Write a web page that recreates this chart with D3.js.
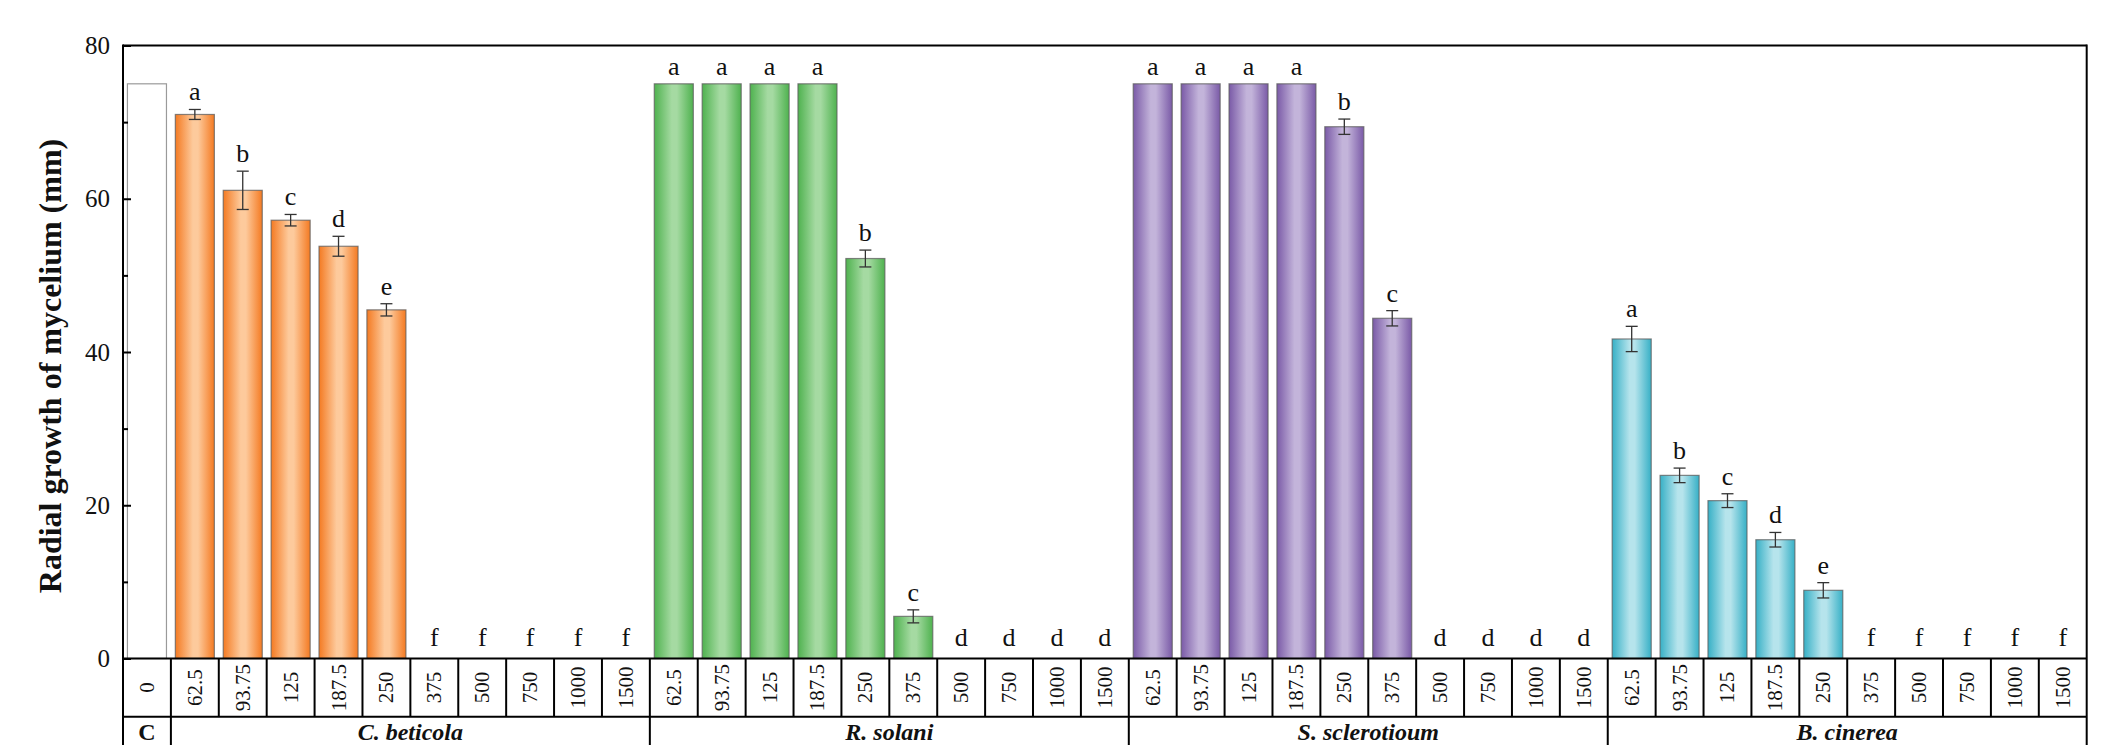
<!DOCTYPE html>
<html>
<head>
<meta charset="utf-8">
<script src="https://cdn.jsdelivr.net/npm/d3@7"></script>
<style>
  html, body { margin: 0; padding: 0; background: #fff; }
  svg { display: block; }
  text { font-family: "Liberation Serif", "Times New Roman", serif; fill: #111; }
</style>
</head>
<body>
<svg id="chart" width="2113" height="745"></svg>
<script>
// ---------------- DATA ----------------
const controlLabel = "C";
const controlConc = "0";
const controlValue = 75;

const concentrations = ["62.5", "93.75", "125", "187.5", "250", "375", "500", "750", "1000", "1500"];
const groups = ["C. beticola", "R. solani", "S. sclerotioum", "B. cinerea"];

const cBeticolaValues  = [71.0, 61.1, 57.2, 53.8, 45.5, 0, 0, 0, 0, 0];
const cBeticolaErrors  = [0.65, 2.5, 0.75, 1.3, 0.8, 0, 0, 0, 0, 0];
const cBeticolaLetters = ["a", "b", "c", "d", "e", "f", "f", "f", "f", "f"];

const rSolaniValues  = [75, 75, 75, 75, 52.2, 5.5, 0, 0, 0, 0];
const rSolaniErrors  = [0, 0, 0, 0, 1.1, 0.85, 0, 0, 0, 0];
const rSolaniLetters = ["a", "a", "a", "a", "b", "c", "d", "d", "d", "d"];

const sSclerotioumValues  = [75, 75, 75, 75, 69.4, 44.4, 0, 0, 0, 0];
const sSclerotioumErrors  = [0, 0, 0, 0, 1.0, 1.0, 0, 0, 0, 0];
const sSclerotioumLetters = ["a", "a", "a", "a", "b", "c", "d", "d", "d", "d"];

const bCinereaValues  = [41.7, 23.9, 20.6, 15.5, 8.9, 0, 0, 0, 0, 0];
const bCinereaErrors  = [1.65, 0.95, 0.9, 0.95, 1.0, 0, 0, 0, 0, 0];
const bCinereaLetters = ["a", "b", "c", "d", "e", "f", "f", "f", "f", "f"];

const yMajorTicks = [0, 20, 40, 60, 80];
const yMinorTicks = [10, 30, 50, 70];
const yTitle = "Radial growth of mycelium (mm)";

// ---------------- STYLE ----------------
const groupColors = [
  { dark: "#f47a22", light: "#fdca9c" },
  { dark: "#4fb24f", light: "#a5daa2" },
  { dark: "#7a5aa7", light: "#c3b4da" },
  { dark: "#37b0c6", light: "#b6e4ec" }
];

// ---------------- BUILD ROWS ----------------
const groupValues  = [cBeticolaValues, rSolaniValues, sSclerotioumValues, bCinereaValues];
const groupErrors  = [cBeticolaErrors, rSolaniErrors, sSclerotioumErrors, bCinereaErrors];
const groupLetters = [cBeticolaLetters, rSolaniLetters, sSclerotioumLetters, bCinereaLetters];

const rows = [{ key: "c0", conc: controlConc, value: controlValue, err: 0, letter: "", group: -1 }];
groups.forEach((g, gi) => {
  concentrations.forEach((c, ci) => {
    rows.push({ key: "g" + gi + "_" + ci, conc: c, value: groupValues[gi][ci],
      err: groupErrors[gi][ci], letter: groupLetters[gi][ci], group: gi });
  });
});

// ---------------- LAYOUT ----------------
const plotLeft = 123, plotRight = 2086.7, plotTop = 45.5, zeroY = 658.5;
const row1Bottom = 716.7, row2Bottom = 790;

const svg = d3.select("#chart");
svg.append("rect").attr("width", 2113).attr("height", 745).attr("fill", "#fff");

const x = d3.scaleBand().domain(rows.map(r => r.key)).range([plotLeft, plotRight]).paddingInner(0).paddingOuter(0);
const y = d3.scaleLinear().domain([0, 80]).range([zeroY, plotTop]);
const bw = x.bandwidth();
const barW = bw * 0.815;

// gradients
const defs = svg.append("defs");
groupColors.forEach((c, i) => {
  const g = defs.append("linearGradient").attr("id", "grad" + i)
    .attr("x1", "0%").attr("x2", "100%").attr("y1", "0%").attr("y2", "0%");
  g.append("stop").attr("offset", "0%").attr("stop-color", c.dark);
  g.append("stop").attr("offset", "45%").attr("stop-color", c.light);
  g.append("stop").attr("offset", "58%").attr("stop-color", c.light);
  g.append("stop").attr("offset", "100%").attr("stop-color", c.dark);
});

// bars
const bars = rows.filter(r => r.value > 0);
svg.append("g").selectAll("rect").data(bars).join("rect")
  .attr("x", d => x(d.key) + (bw - barW) / 2)
  .attr("y", d => y(d.value))
  .attr("width", barW)
  .attr("height", d => y(0) - y(d.value))
  .attr("fill", d => d.group < 0 ? "#fff" : "url(#grad" + d.group + ")")
  .attr("stroke", d => d.group < 0 ? "#9a9a9a" : "#5e5e5e")
  .attr("stroke-opacity", d => d.group < 0 ? 1 : 0.75)
  .attr("stroke-width", 1.2);

// error bars
const errs = rows.filter(r => r.err > 0);
const eg = svg.append("g").attr("stroke", "#333").attr("stroke-width", 1.3).attr("fill", "none");
errs.forEach(d => {
  const cx = x(d.key) + bw / 2;
  const y1 = y(d.value + d.err), y2 = y(d.value - d.err);
  eg.append("line").attr("x1", cx).attr("x2", cx).attr("y1", y1).attr("y2", y2);
  eg.append("line").attr("x1", cx - 6).attr("x2", cx + 6).attr("y1", y1).attr("y2", y1);
  eg.append("line").attr("x1", cx - 6).attr("x2", cx + 6).attr("y1", y2).attr("y2", y2);
});

// significance letters
svg.append("g").selectAll("text").data(rows.filter(r => r.letter)).join("text")
  .attr("x", d => x(d.key) + bw / 2)
  .attr("y", d => d.value > 0 ? y(d.value + d.err) - 9 : y(0) - 13)
  .attr("text-anchor", "middle")
  .attr("font-size", 26)
  .text(d => d.letter);

// y axis (inward ticks)
const yAxis = d3.axisLeft(y).tickValues(yMajorTicks).tickSizeInner(-8).tickSizeOuter(0).tickPadding(13)
  .tickFormat(d3.format("d"));
const ya = svg.append("g").attr("transform", `translate(${plotLeft},0)`).call(yAxis);
ya.select(".domain").remove();
ya.selectAll(".tick line").attr("stroke", "#000").attr("stroke-width", 2);
ya.selectAll(".tick text").attr("font-size", 25).attr("font-family", "Liberation Serif, Times New Roman, serif").attr("fill", "#111");

const yMinor = d3.axisLeft(y).tickValues(yMinorTicks).tickSizeInner(-5).tickSizeOuter(0).tickFormat("");
const ym = svg.append("g").attr("transform", `translate(${plotLeft},0)`).call(yMinor);
ym.select(".domain").remove();
ym.selectAll(".tick line").attr("stroke", "#000").attr("stroke-width", 2);

// y title
svg.append("text")
  .attr("transform", `translate(61,366) rotate(-90)`)
  .attr("text-anchor", "middle")
  .attr("font-size", 32)
  .attr("font-weight", "bold")
  .text(yTitle);

// frame
const frame = svg.append("g").attr("stroke", "#000").attr("stroke-width", 2).attr("fill", "none");
frame.append("line").attr("x1", plotLeft).attr("x2", plotRight).attr("y1", plotTop).attr("y2", plotTop);
frame.append("line").attr("x1", plotLeft).attr("x2", plotLeft).attr("y1", plotTop - 1).attr("y2", row2Bottom);
frame.append("line").attr("x1", plotRight).attr("x2", plotRight).attr("y1", plotTop - 1).attr("y2", row2Bottom);
frame.append("line").attr("x1", plotLeft).attr("x2", plotRight).attr("y1", zeroY).attr("y2", zeroY);
frame.append("line").attr("x1", plotLeft).attr("x2", plotRight).attr("y1", row1Bottom).attr("y2", row1Bottom);

// table row 1: cell separators and concentration labels
rows.forEach((d, i) => {
  if (i > 0) {
    frame.append("line").attr("x1", x(d.key)).attr("x2", x(d.key)).attr("y1", zeroY).attr("y2", row1Bottom);
  }
});
svg.append("g").selectAll("text").data(rows).join("text")
  .attr("transform", d => `translate(${x(d.key) + bw / 2},${(zeroY + row1Bottom) / 2}) rotate(-90)`)
  .attr("text-anchor", "middle")
  .attr("dominant-baseline", "central")
  .attr("font-size", 21)
  .text(d => d.conc);

// table row 2: group separators and labels
const groupSpans = [{ label: controlLabel, start: rows[0].key, end: rows[0].key, italic: false }];
groups.forEach((g, gi) => {
  groupSpans.push({ label: g, start: "g" + gi + "_0", end: "g" + gi + "_" + (concentrations.length - 1), italic: true });
});
groupSpans.forEach((s, i) => {
  const x0 = x(s.start), x1 = x(s.end) + bw;
  if (i > 0) frame.append("line").attr("x1", x0).attr("x2", x0).attr("y1", row1Bottom).attr("y2", row2Bottom);
  svg.append("text")
    .attr("x", (x0 + x1) / 2)
    .attr("y", 740)
    .attr("text-anchor", "middle")
    .attr("font-size", 24)
    .attr("font-weight", "bold")
    .attr("font-style", s.italic ? "italic" : "normal")
    .text(s.label);
});
</script>
</body>
</html>
